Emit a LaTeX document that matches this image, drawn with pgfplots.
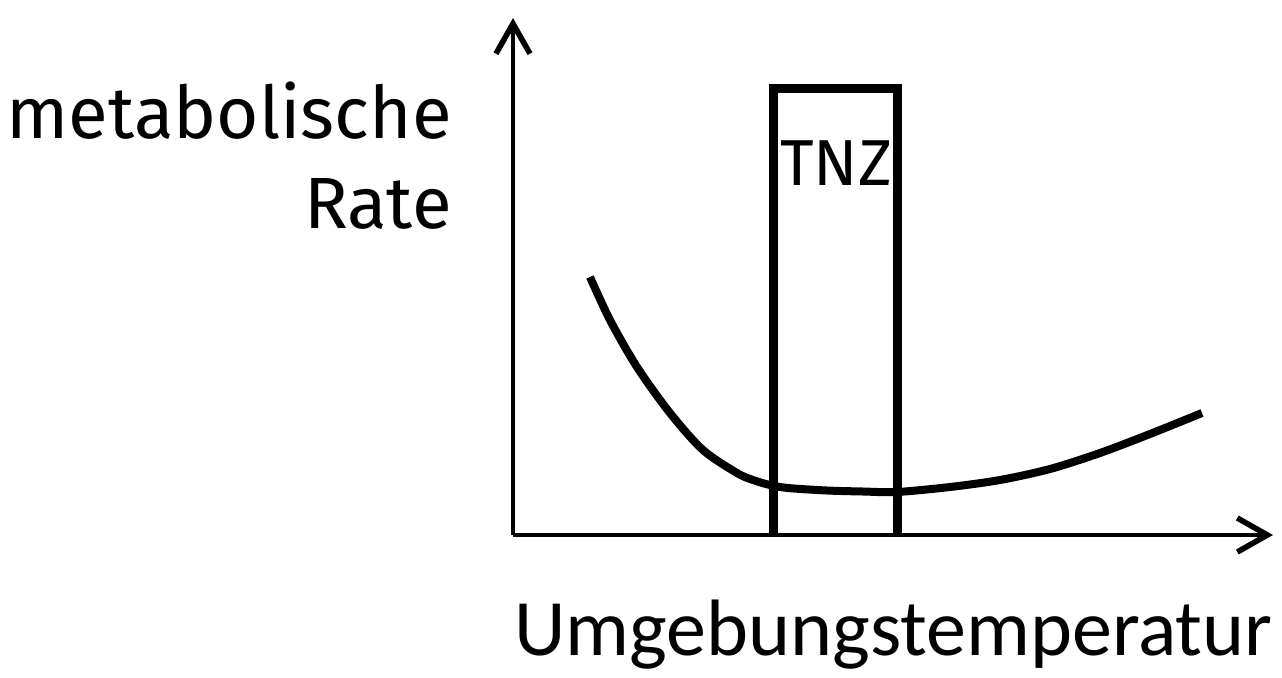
\documentclass[border=0pt]{standalone}
\usepackage{pgfplots}
\pgfplotsset{compat=1.18}
\usetikzlibrary{arrows.meta}
\usepackage{fontspec}
\newfontfamily\fira{Fira Sans}
\newfontfamily\carl{Carlito}
\begin{document}
\begin{tikzpicture}
\begin{axis}[
  scale only axis,
  width=380pt, height=258.5pt,
  xmin=0, xmax=760, ymin=0, ymax=517,
  axis lines=left,
  axis line style={line width=2.3pt, -{Straight Barb[length=15pt,width=17pt,line width=2.8pt]}},
  xtick=\empty, ytick=\empty,
  clip=false,
]
% invisible frame fixing the picture size
\path (axis cs:-513,-142) rectangle (axis cs:769,535);
% TNZ box
\addplot[black, line width=4.5pt, line join=miter] coordinates {(261,0) (261,447) (385,447) (385,0)};
% metabolic rate curve
\addplot[black, line width=4pt, smooth, tension=0.5, line cap=butt] coordinates {
(77,258) (97,215) (124,168) (157,122) (190,85) (224,62) (240,55) (257,50) (275,47) (314,44.5) (350,43.5) (384,43) (437,48) (487,55) (537,66) (587,82) (637,101) (689,122)};
\node[anchor=base, inner sep=0pt, font=\fira\fontsize{32.5pt}{36pt}\selectfont] at (axis cs:323,350) {TNZ};
\node[anchor=base east, inner sep=0pt, font=\fira\fontsize{36.3pt}{44pt}\selectfont] at (axis cs:-61,397) {metabolische};
\node[anchor=base east, inner sep=0pt, font=\fira\fontsize{36.3pt}{44pt}\selectfont] at (axis cs:-61,307) {Rate};
\node[anchor=base west, inner sep=0pt, font=\carl\fontsize{40pt}{48pt}\selectfont] at (axis cs:1,-120) {Umgebungstemperatur};
\end{axis}
\end{tikzpicture}
\end{document}
